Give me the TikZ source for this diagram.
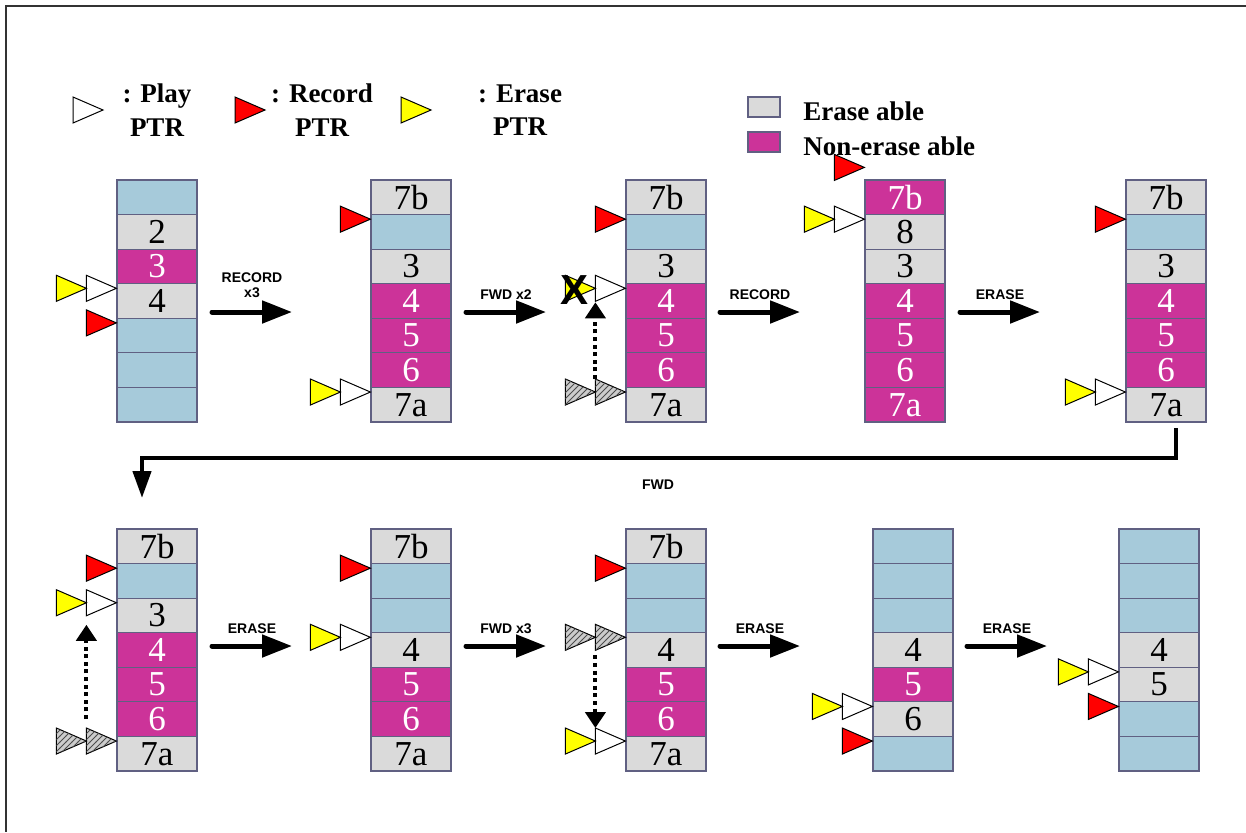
\documentclass[tikz,border=0pt]{standalone}
\usepackage{fontspec}
\setmainfont{Liberation Serif}
\setsansfont{Liberation Sans}
\usetikzlibrary{arrows.meta,patterns}
\definecolor{cellblue}{RGB}{166,202,218}
\definecolor{cellmag}{RGB}{204,51,153}
\definecolor{cellgray}{RGB}{218,218,218}
\definecolor{celledge}{RGB}{96,96,130}
\definecolor{ptrred}{RGB}{255,0,0}
\definecolor{ptryel}{RGB}{255,255,0}

\tikzset{
  cell/.style={draw=celledge, line width=0.6pt, minimum width=40pt, minimum height=17.28pt, inner sep=0pt, font=\fontsize{17.5}{17.5}\selectfont},
  bl/.style={cell, fill=cellblue},
  gr/.style={cell, fill=cellgray, text=black},
  mg/.style={cell, fill=cellmag, text=white},
  ptrtri/.style={draw=black, line width=0.5pt},
  play/.style={fill=white},
  rec/.style={fill=ptrred},
  era/.style={fill=ptryel},
  old/.style={fill=gray!40, postaction={pattern=north east lines, pattern color=black!70}},
  action/.style={line width=2.5pt, line cap=round, -{Triangle[length=15pt,width=11pt]}},
  fwdline/.style={line width=2.2pt, -{Triangle[length=13.5pt,width=9pt]}},
  dotmove/.style={line width=2pt, dash pattern=on 2pt off 1.8pt, -{Triangle[length=8pt,width=10pt]}},
  lab/.style={font=\sffamily\bfseries\fontsize{7}{7.5}\selectfont, align=center, inner sep=0pt},
  legtext/.style={font=\bfseries\fontsize{13.5}{16.75}\selectfont, align=center, inner sep=0pt},
  pageframe/.style={draw=black!80, line width=0.6pt}
}

% one buffer column: name, x centre, y top, cells
\newcommand\buffer[4]{%
  \foreach \s/\t [count=\i] in {#4}
    \node[\s] (#1-\i) at (#2,{#3+(\i-0.5)*34.57}) {\t};
}
% pointer triangle with its tip at #2
\newcommand\ptr[2]{\filldraw[ptrtri,#1] #2 -- ++(-30,-13) -- ++(0,26) -- cycle;}
\newcommand\pair[1]{\ptr{play}{#1}\ptr{era}{#1 ++(-30,0)}}

\begin{document}
\begin{tikzpicture}[x=0.5pt,y=-0.5pt]
\useasboundingbox (0,0) rectangle (1246,832);
\draw[pageframe] (1246,6) -- (6,6) -- (6,832);

% legend
\ptr{play}{(103,110)}
\node[legtext] (lplay) at (157,110) {: Play\\PTR};
\ptr{rec}{(265,110)}
\node[legtext] (lrec) at (322,110) {: Record\\PTR};
\ptr{era}{(431,110)}
\node[legtext] (lera) at (520,110) {: Erase\\PTR};
\node[gr, minimum width=16pt, minimum height=10pt] (lgr) at (764,107) {};
\node[mg, minimum width=16pt, minimum height=10pt] (lmg) at (764,142) {};
\node[legtext, anchor=west] (tgr) at (803,111) {Erase able};
\node[legtext, anchor=west] (tmg) at (803,146) {Non-erase able};

% first row
\buffer{a}{157}{180}{bl/{},gr/2,mg/3,gr/4,bl/{},bl/{},bl/{}}
\buffer{b}{411}{180}{gr/7b,bl/{},gr/3,mg/4,mg/5,mg/6,gr/7a}
\buffer{c}{666}{180}{gr/7b,bl/{},gr/3,mg/4,mg/5,mg/6,gr/7a}
\buffer{d}{905}{180}{mg/7b,gr/8,gr/3,mg/4,mg/5,mg/6,mg/7a}
\buffer{e}{1166}{180}{gr/7b,bl/{},gr/3,mg/4,mg/5,mg/6,gr/7a}

\pair{([yshift=-2pt]a-3.south west)}
\ptr{rec}{([yshift=-2pt]a-4.south west)}
\ptr{rec}{([yshift=-2pt]b-1.south west)}
\pair{([yshift=-2pt]b-6.south west)}
\ptr{rec}{([yshift=-2pt]c-1.south west)}
\pair{([yshift=-2pt]c-3.south west)}
\node[font=\sffamily\bfseries\fontsize{21}{21}\selectfont, inner sep=0pt] (cross) at (574,290) {X};
\ptr{old}{([yshift=-2pt]c-6.south west)}
\ptr{old}{([yshift=-2pt]c-6.south west) ++(-30,0)}
\coordinate (c-from) at ([xshift=-15pt,yshift=4.5pt]c-6.south west);
\coordinate (c-to) at ([xshift=-15pt,yshift=-9pt]c-3.south west);
\draw[dotmove] (c-from) -- (c-to);
\ptr{rec}{([yshift=6pt]d-1.north west)}
\pair{([yshift=-2pt]d-1.south west)}
\ptr{rec}{([yshift=-2pt]e-1.south west)}
\pair{([yshift=-2pt]e-6.south west)}

\coordinate (m1s) at (212,312); \coordinate (m1e) at (292,312);
\coordinate (m2s) at (466,312); \coordinate (m2e) at (546,312);
\coordinate (m3s) at (720,312); \coordinate (m3e) at (800,312);
\coordinate (m4s) at (960,312); \coordinate (m4e) at (1040,312);
\draw[action] (m1s) -- (m1e);
\draw[action] (m2s) -- (m2e);
\draw[action] (m3s) -- (m3e);
\draw[action] (m4s) -- (m4e);
\node[lab] (l1) at (252,285) {RECORD\\x3};
\node[lab] (l2) at (506,295) {FWD x2};
\node[lab] (l3) at (760,295) {RECORD};
\node[lab] (l4) at (1000,295) {ERASE};

% wrap round to the second row
\coordinate (fwds) at (1176,428);
\coordinate (fwde) at (142,498);
\draw[fwdline] (fwds) -- ++(0,30) -| (fwde);
\node[lab] (l5) at (658,485) {FWD};

% second row
\buffer{f}{157}{529}{gr/7b,bl/{},gr/3,mg/4,mg/5,mg/6,gr/7a}
\buffer{g}{411}{529}{gr/7b,bl/{},bl/{},gr/4,mg/5,mg/6,gr/7a}
\buffer{h}{666}{529}{gr/7b,bl/{},bl/{},gr/4,mg/5,mg/6,gr/7a}
\buffer{i}{913}{529}{bl/{},bl/{},bl/{},gr/4,mg/5,gr/6,bl/{}}
\buffer{j}{1159}{529}{bl/{},bl/{},bl/{},gr/4,gr/5,bl/{},bl/{}}

\ptr{rec}{([yshift=-2pt]f-1.south west)}
\pair{([yshift=-2pt]f-2.south west)}
\ptr{old}{([yshift=-2pt]f-6.south west)}
\ptr{old}{([yshift=-2pt]f-6.south west) ++(-30,0)}
\coordinate (f-from) at ([xshift=-15pt,yshift=9pt]f-6.south west);
\coordinate (f-to) at ([xshift=-15pt,yshift=-13pt]f-2.south west);
\draw[dotmove] (f-from) -- (f-to);
\ptr{rec}{([yshift=-2pt]g-1.south west)}
\pair{([yshift=-2pt]g-3.south west)}
\ptr{rec}{([yshift=-2pt]h-1.south west)}
\ptr{old}{([yshift=-2pt]h-3.south west)}
\ptr{old}{([yshift=-2pt]h-3.south west) ++(-30,0)}
\pair{([yshift=-2pt]h-6.south west)}
\coordinate (h-from) at ([xshift=-15pt,yshift=-11pt]h-3.south west);
\coordinate (h-to) at ([xshift=-15pt,yshift=4.5pt]h-6.south west);
\draw[dotmove] (h-from) -- (h-to);
\pair{([yshift=-2pt]i-5.south west)}
\ptr{rec}{([yshift=-2pt]i-6.south west)}
\pair{([yshift=-2pt]j-4.south west)}
\ptr{rec}{([yshift=-2pt]j-5.south west)}

\coordinate (n1s) at (212,646); \coordinate (n1e) at (292,646);
\coordinate (n2s) at (466,646); \coordinate (n2e) at (546,646);
\coordinate (n3s) at (720,646); \coordinate (n3e) at (800,646);
\coordinate (n4s) at (967,646); \coordinate (n4e) at (1047,646);
\draw[action] (n1s) -- (n1e);
\draw[action] (n2s) -- (n2e);
\draw[action] (n3s) -- (n3e);
\draw[action] (n4s) -- (n4e);
\node[lab] (k1) at (252,629) {ERASE};
\node[lab] (k2) at (506,629) {FWD x3};
\node[lab] (k3) at (760,629) {ERASE};
\node[lab] (k4) at (1007,629) {ERASE};
\end{tikzpicture}
\end{document}
